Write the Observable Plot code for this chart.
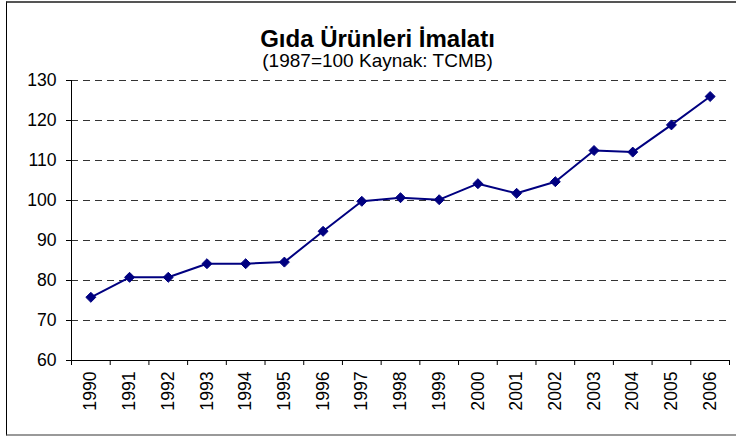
<!DOCTYPE html>
<html>
<head>
<meta charset="utf-8">
<script src="https://cdn.jsdelivr.net/npm/d3@7"></script>
<script src="https://cdn.jsdelivr.net/npm/@observablehq/plot@0.6"></script>
<style>
  html, body { margin: 0; padding: 0; background: #fff; }
  #wrap { position: relative; width: 736px; height: 439px; overflow: hidden; }
  #frame { position: absolute; left: 6px; top: 1px; width: 740px; height: 435px;
           border-left: 1.5px solid #000; border-top: 2px solid #555; border-bottom: 2px solid #999; box-sizing: border-box; }
  #wrap svg { position: absolute; left: 0; top: 0; }
</style>
</head>
<body>
<div id="wrap"><div id="frame"></div></div>
<script>
const title = "Gıda Ürünleri İmalatı";
const subtitle = "(1987=100 Kaynak: TCMB)";
const years = [1990, 1991, 1992, 1993, 1994, 1995, 1996, 1997, 1998, 1999, 2000, 2001, 2002, 2003, 2004, 2005, 2006];
const values = [75.8, 80.8, 80.8, 84.2, 84.2, 84.6, 92.3, 99.8, 100.7, 100.2, 104.2, 101.8, 104.7, 112.5, 112.1, 118.9, 126.0];
const yTicks = [60, 70, 80, 90, 100, 110, 120, 130];

const data = years.map((y, i) => ({year: y, value: values[i]}));
const boundaries = [...years.map(y => y - 0.5), years[years.length - 1] + 0.5];
const font = "'Liberation Sans', Arial, sans-serif";

const chart = Plot.plot({
  width: 736,
  height: 439,
  marginLeft: 71,
  marginRight: 7,
  marginTop: 80,
  marginBottom: 79,
  style: {fontFamily: font, fontSize: "17.6px", color: "#000", background: "transparent"},
  x: {type: "linear", domain: [boundaries[0], boundaries[boundaries.length - 1]]},
  y: {domain: [60, 130]},
  marks: [
    Plot.ruleY(yTicks.filter(v => v > 60), {stroke: "#333", strokeWidth: 1, strokeDasharray: "7,5"}),
    Plot.axisY(yTicks, {tickSize: 5, tickPadding: 10, label: null, fontSize: 17.6, stroke: "#000"}),
    Plot.axisX(boundaries, {tickSize: 5, tickFormat: () => "", label: null}),
    Plot.axisX(years, {tickSize: 0, tickPadding: 11, tickRotate: -90, tickFormat: d => String(d), label: null, fontSize: 17.6}),
    Plot.ruleX([boundaries[0]], {stroke: "#000", strokeWidth: 1}),
    Plot.ruleY([60], {stroke: "#000", strokeWidth: 1, x1: boundaries[0], x2: boundaries[boundaries.length - 1]}),
    Plot.line(data, {x: "year", y: "value", stroke: "#000080", strokeWidth: 2}),
    Plot.dot(data, {x: "year", y: "value", symbol: "diamond2", r: 4.5, fill: "#000080", stroke: "#000080", strokeWidth: 1}),
    Plot.text([title], {frameAnchor: "top", dx: -23, dy: -34, lineAnchor: "bottom", text: d => d,
      fontSize: 24, fontWeight: "bold", fill: "#000"}),
    Plot.text([subtitle], {frameAnchor: "top", dx: -23, dy: -13.5, lineAnchor: "bottom", text: d => d,
      fontSize: 19, fill: "#000"})
  ]
});
document.getElementById("wrap").appendChild(chart);
</script>
</body>
</html>
